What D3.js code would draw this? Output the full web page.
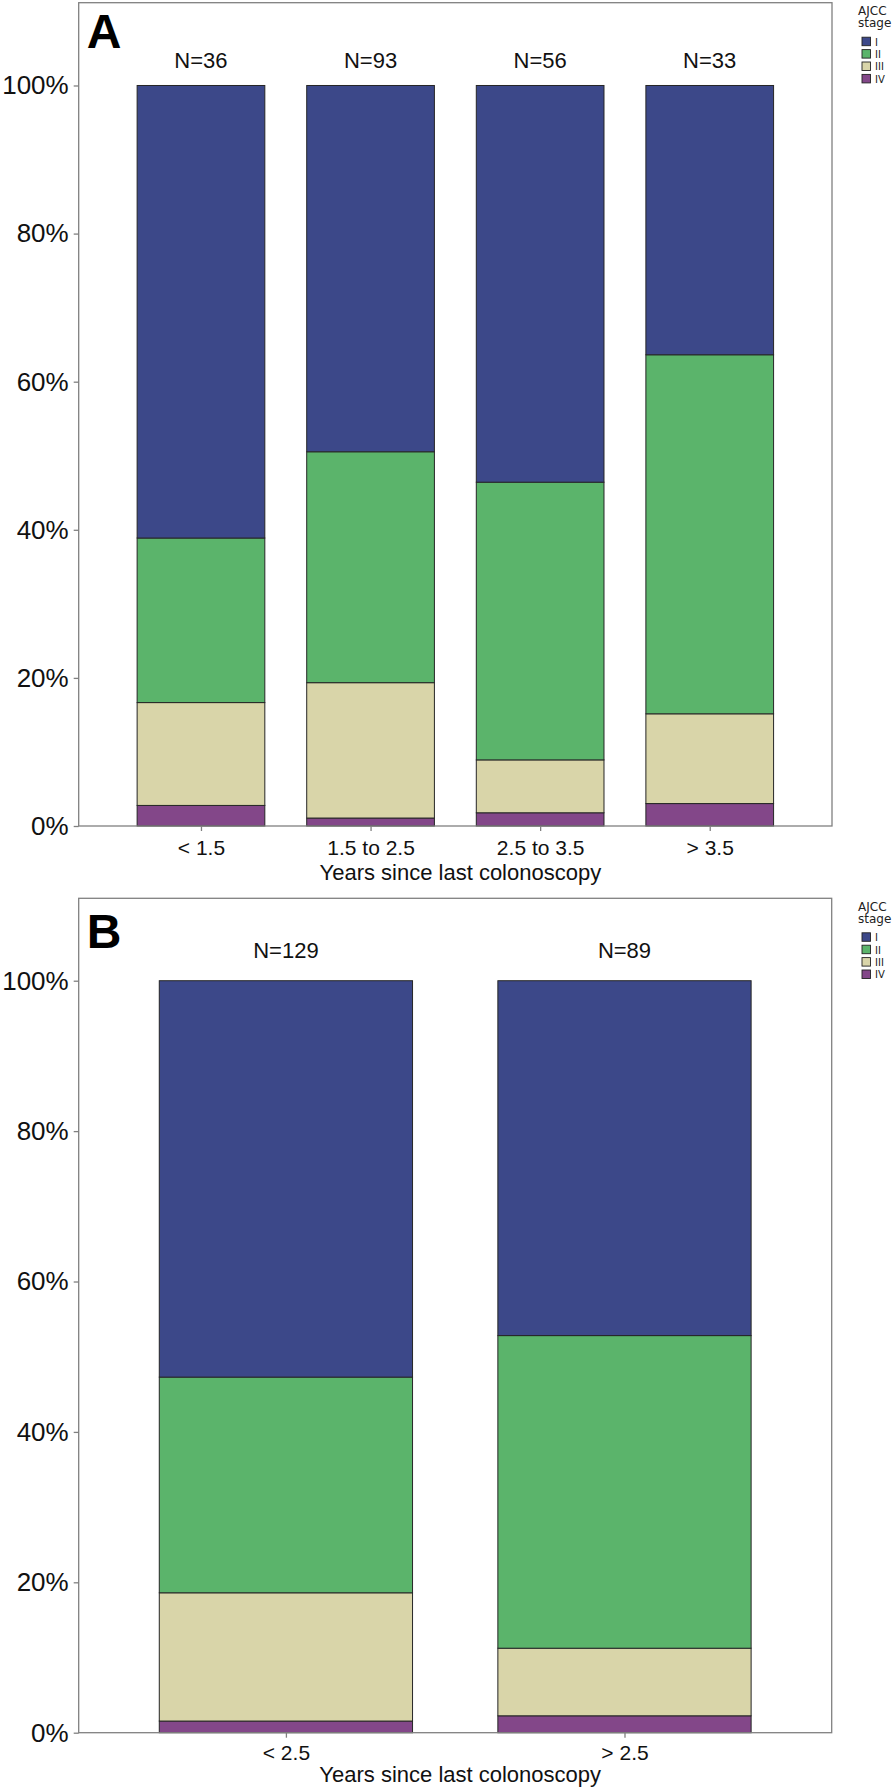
<!DOCTYPE html>
<html>
<head>
<meta charset="utf-8">
<script src="https://cdn.jsdelivr.net/npm/d3@7"></script>
<style>
  html, body { margin: 0; padding: 0; background: #fff; }
  svg { display: block; }
</style>
</head>
<body>
<svg id="chart" width="894" height="1789"></svg>
<script>
// ---------- data ----------
const stages = ["I", "II", "III", "IV"];
const stageColors = ["#3c4889", "#5bb46b", "#d9d5a9", "#834789"];
const yTickValues = [0, 0.2, 0.4, 0.6, 0.8, 1.0];

const categoriesA = ["< 1.5", "1.5 to 2.5", "2.5 to 3.5", "> 3.5"];
const nA = [36, 93, 56, 33];
const stageI_A = [22, 46, 30, 12];
const stageII_A = [8, 29, 21, 16];
const stageIII_A = [5, 17, 4, 4];
const stageIV_A = [1, 1, 1, 1];

const categoriesB = ["< 2.5", "> 2.5"];
const nB = [129, 89];
const stageI_B = [68, 42];
const stageII_B = [37, 37];
const stageIII_B = [22, 8];
const stageIV_B = [2, 2];

const xTitle = "Years since last colonoscopy";
const legendTitle = ["AJCC", "stage"];

// ---------- drawing ----------
const svg = d3.select("#chart");
const FONT = "'Liberation Sans', Arial, Helvetica, sans-serif";
const LFONT = "'DejaVu Sans', Verdana, sans-serif";

function drawPanel(cfg) {
  const g = svg.append("g");
  const rows = cfg.categories.map((c, i) => ({
    cat: c, n: cfg.n[i],
    I: cfg.I[i], II: cfg.II[i], III: cfg.III[i], IV: cfg.IV[i]
  }));
  const stack = d3.stack().keys(["IV", "III", "II", "I"]).offset(d3.stackOffsetExpand);
  const series = stack(rows);

  const x = d3.scalePoint().domain(cfg.categories)
    .range([cfg.left, cfg.right]).padding(cfg.pad);
  const bw = x.step() * cfg.barFrac;
  const y = d3.scaleLinear().domain([0, cfg.ymax]).range([cfg.bottom, cfg.top]);
  const color = d3.scaleOrdinal().domain(stages).range(stageColors);

  // bars
  g.selectAll("g.series").data(series).join("g")
    .attr("fill", d => color(d.key))
    .selectAll("rect").data(d => d).join("rect")
    .attr("x", d => x(d.data.cat) - bw / 2)
    .attr("width", bw)
    .attr("y", d => y(d[1]))
    .attr("height", d => y(d[0]) - y(d[1]))
    .attr("stroke", "#262626")
    .attr("stroke-width", 1);

  // panel border
  g.append("rect")
    .attr("x", cfg.left).attr("y", cfg.top)
    .attr("width", cfg.right - cfg.left).attr("height", cfg.bottom - cfg.top)
    .attr("fill", "none").attr("stroke", "#808080").attr("stroke-width", 1.3);

  // y axis
  const yAxis = d3.axisLeft(y).tickValues(yTickValues).tickSize(5).tickPadding(5)
    .tickFormat(d3.format(".0%"));
  const ya = g.append("g").attr("transform", `translate(${cfg.left},0)`).call(yAxis);
  ya.select(".domain").remove();
  ya.selectAll(".tick line").attr("stroke", "#808080").attr("stroke-width", 1.3);
  ya.selectAll(".tick text").attr("font-family", FONT).attr("font-size", 26)
    .attr("fill", "#111");

  // x axis
  const xAxis = d3.axisBottom(x).tickSize(5).tickPadding(cfg.xTickPad);
  const xa = g.append("g").attr("transform", `translate(0,${cfg.bottom})`).call(xAxis);
  xa.select(".domain").remove();
  xa.selectAll(".tick line").attr("stroke", "#808080").attr("stroke-width", 1.3);
  xa.selectAll(".tick text").attr("font-family", FONT).attr("font-size", 21)
    .attr("fill", "#111");

  // x title
  g.append("text")
    .attr("x", (cfg.left + cfg.right) / 2 + 5).attr("y", cfg.titleY)
    .attr("text-anchor", "middle").attr("font-family", FONT).attr("font-size", 22)
    .attr("fill", "#111").text(xTitle);

  // N labels
  g.selectAll("text.nlab").data(rows).join("text").attr("class", "nlab")
    .attr("x", d => x(d.cat)).attr("y", y(1) - cfg.nOffset)
    .attr("text-anchor", "middle").attr("font-family", FONT).attr("font-size", 22)
    .attr("fill", "#111").text(d => "N=" + d.n);

  // panel letter
  g.append("text").attr("x", cfg.left + 8).attr("y", cfg.top + cfg.letterDy)
    .attr("font-family", FONT).attr("font-weight", "bold").attr("font-size", 48)
    .attr("fill", "#000").text(cfg.letter);

  // legend
  const lg = g.append("g").attr("transform", `translate(858,${cfg.top})`);
  lg.selectAll("text.lt").data(legendTitle).join("text").attr("class", "lt")
    .attr("x", 0).attr("y", (d, i) => 12.5 + i * 12.3)
    .attr("font-family", LFONT).attr("font-size", 12).attr("fill", "#222").text(d => d);
  const items = lg.selectAll("g.item").data(stages).join("g").attr("class", "item")
    .attr("transform", (d, i) => `translate(4,${34.5 + i * 12.4})`);
  items.append("rect").attr("width", 8.5).attr("height", 8.5)
    .attr("fill", d => color(d)).attr("stroke", "#222").attr("stroke-width", 0.9);
  items.append("text").attr("x", 13).attr("y", 8.3)
    .attr("font-family", LFONT).attr("font-size", 10).attr("fill", "#222").text(d => d);
}

drawPanel({
  letter: "A", categories: categoriesA, n: nA,
  I: stageI_A, II: stageII_A, III: stageIII_A, IV: stageIV_A,
  left: 78.7, right: 832, top: 2.7, bottom: 826, ymax: 1.1118,
  pad: 0.721, barFrac: 0.753, nOffset: 17.2, letterDy: 45.6,
  xTickPad: 9, titleY: 880
});

drawPanel({
  letter: "B", categories: categoriesB, n: nB,
  I: stageI_B, II: stageII_B, III: stageIII_B, IV: stageIV_B,
  left: 78.7, right: 831.7, top: 898.3, bottom: 1732.7, ymax: 1.1096,
  pad: 0.612, barFrac: 0.748, nOffset: 22.4, letterDy: 50,
  xTickPad: 7, titleY: 1782
});
</script>
</body>
</html>
